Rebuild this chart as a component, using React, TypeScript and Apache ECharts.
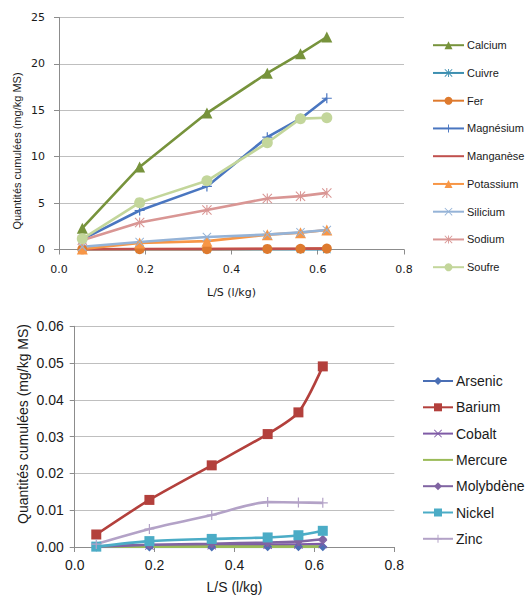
import { useEffect, useRef } from "react";
import * as echarts from "echarts";

// L/S values (l/kg)
const LS = [0.054, 0.187, 0.343, 0.483, 0.56, 0.621];

// Top chart: cumulated quantities (mg/kg MS)
const TOP_NAMES = ["Calcium", "Cuivre", "Fer", "Magnésium", "Manganèse", "Potassium", "Silicium", "Sodium", "Soufre"];
const calcium = [2.3, 8.9, 14.7, 19.0, 21.1, 22.9];
const cuivre = [0.01, 0.01, 0.01, 0.01, 0.01, 0.01];
const fer = [0.02, 0.03, 0.04, 0.06, 0.08, 0.1];
const magnesium = [1.1, 4.2, 6.8, 12.1, 14.1, 16.3];
const manganese = [0.03, 0.05, 0.06, 0.08, 0.09, 0.1];
const potassium = [0.05, 0.7, 0.9, 1.6, 1.8, 2.1];
const silicium = [0.3, 0.8, 1.35, 1.6, 1.85, 2.1];
const sodium = [1.0, 2.9, 4.25, 5.5, 5.75, 6.1];
const soufre = [1.15, 5.05, 7.4, 11.5, 14.1, 14.2];

// Bottom chart
const BOTTOM_NAMES = ["Arsenic", "Barium", "Cobalt", "Mercure", "Molybdène", "Nickel", "Zinc"];
const arsenic = [0.00002, 0.00003, 0.00003, 0.00004, 0.00004, 0.00005];
const barium = [0.0034, 0.0128, 0.0222, 0.0307, 0.0366, 0.0491];
const cobalt = [0.0002, 0.0004, 0.0005, 0.0006, 0.0007, 0.0008];
const mercure = [0.0001, 0.0001, 0.0001, 0.0001, 0.0001, 0.0001];
const molybdene = [0.0001, 0.0006, 0.0009, 0.0012, 0.0015, 0.0021];
const nickel = [0.0001, 0.0016, 0.0022, 0.0026, 0.0032, 0.0044];
const zinc = [0.0008, 0.0049, 0.0087, 0.0122, 0.0121, 0.012];

const NO_MARKER = ["Manganèse", "Mercure"];

const PLUS = "path://M8.8,0H11.2V8.8H20V11.2H11.2V20H8.8V11.2H0V8.8H8.8Z";
const CROSS_D = "M0,1.5L1.5,0L10,8.5L18.5,0L20,1.5L11.5,10L20,18.5L18.5,20L10,11.5L1.5,20L0,18.5L8.5,10Z";
const CROSS = "path://" + CROSS_D;
const STAR = "path://" + CROSS_D + "M8.9,0H11.1V20H8.9Z";

const SANS = "Liberation Sans, Arial, sans-serif";

function mk(
  name: string,
  values: number[],
  color: string,
  symbol: string,
  size: number,
  axis: number,
  smooth: number | boolean
) {
  return {
    name,
    type: "line",
    xAxisIndex: axis,
    yAxisIndex: axis,
    data: LS.map((x, i) => [x, values[i]]),
    symbol,
    symbolSize: size,
    showSymbol: symbol !== "none",
    smooth,
    lineStyle: { width: 2.6, color },
    itemStyle: { color },
    emphasis: { disabled: true },
  };
}

function legendData(names: string[]) {
  return names.map((n) =>
    NO_MARKER.includes(n)
      ? { name: n, itemStyle: { color: "rgba(0,0,0,0)", opacity: 0, borderWidth: 0 } }
      : { name: n }
  );
}

export default function App() {
  const ref = useRef<HTMLDivElement>(null);
  useEffect(() => {
    if (!ref.current) return;
    const chart = echarts.init(ref.current, undefined, { renderer: "svg" });
    const axisLine = { show: true, lineStyle: { color: "#8c8c8c", width: 1 } };
    const axisTick = { show: true, length: 5, lineStyle: { color: "#8c8c8c" } };
    const splitLine = { show: true, lineStyle: { color: "#bfbfbf", width: 1 } };
    const option: any = {
      animation: false,
      backgroundColor: "#ffffff",
      grid: [
        { left: 59, top: 17.5, width: 345, height: 232 },
        { left: 74.7, top: 326.3, width: 319.6, height: 222 },
      ],
      xAxis: [
        {
          type: "value",
          gridIndex: 0,
          min: 0,
          max: 0.8,
          interval: 0.2,
          axisLine,
          axisTick,
          splitLine: { show: false },
          axisLabel: {
            formatter: (v: number) => v.toFixed(1),
            fontSize: 11,
            fontFamily: "DejaVu Sans",
            color: "#1a1a1a",
            margin: 14,
          },
          name: "L/S (l/kg)",
          nameLocation: "middle",
          nameGap: 37,
          nameTextStyle: { fontSize: 11, fontFamily: "DejaVu Sans", color: "#1a1a1a" },
        },
        {
          type: "value",
          gridIndex: 1,
          min: 0,
          max: 0.8,
          interval: 0.2,
          axisLine,
          axisTick,
          splitLine: { show: false },
          axisLabel: {
            formatter: (v: number) => v.toFixed(1),
            fontSize: 14,
            fontFamily: SANS,
            color: "#1a1a1a",
            margin: 11,
          },
          name: "L/S (l/kg)",
          nameLocation: "middle",
          nameGap: 33,
          nameTextStyle: { fontSize: 14, fontFamily: SANS, color: "#1a1a1a" },
        },
      ],
      yAxis: [
        {
          type: "value",
          gridIndex: 0,
          min: 0,
          max: 25,
          interval: 5,
          axisLine,
          axisTick,
          splitLine,
          axisLabel: { fontSize: 11, fontFamily: "DejaVu Sans", color: "#1a1a1a", margin: 14 },
        },
        {
          type: "value",
          gridIndex: 1,
          min: 0,
          max: 0.06,
          interval: 0.01,
          axisLine,
          axisTick,
          splitLine,
          axisLabel: {
            formatter: (v: number) => v.toFixed(2),
            fontSize: 14,
            fontFamily: SANS,
            color: "#1a1a1a",
            margin: 11,
          },
        },
      ],
      legend: [
        {
          data: legendData(TOP_NAMES),
          orient: "vertical",
          left: 432,
          top: 39.7,
          padding: 0,
          itemWidth: 31,
          itemHeight: 10,
          itemGap: 16.75,
          textStyle: { fontSize: 11, fontFamily: SANS, color: "#1a1a1a", padding: [0, 0, 0, -2] },
        },
        {
          data: legendData(BOTTOM_NAMES),
          orient: "vertical",
          left: 422,
          top: 374,
          padding: 0,
          itemWidth: 30,
          itemHeight: 10,
          itemGap: 12.3,
          textStyle: { fontSize: 14, fontFamily: SANS, color: "#1a1a1a", padding: [0, 0, 0, -2] },
        },
      ],
      graphic: [
        {
          type: "text",
          x: 17,
          y: 151,
          rotation: Math.PI / 2,
          style: {
            text: "Quantités cumulées (mg/kg MS)",
            fontSize: 11,
            fontFamily: SANS,
            fill: "#1a1a1a",
            align: "center",
            verticalAlign: "middle",
          },
        },
        {
          type: "text",
          x: 22.7,
          y: 424,
          rotation: Math.PI / 2,
          style: {
            text: "Quantités cumulées (mg/kg MS)",
            fontSize: 14,
            fontFamily: SANS,
            fill: "#1a1a1a",
            align: "center",
            verticalAlign: "middle",
          },
        },
      ],
      series: [
        mk("Calcium", calcium, "#77933C", "triangle", 11, 0, false),
        mk("Cuivre", cuivre, "#3D8FB0", STAR, 8, 0, false),
        mk("Fer", fer, "#DE7A2E", "circle", 10, 0, false),
        mk("Magnésium", magnesium, "#4A76C0", PLUS, 10, 0, false),
        mk("Manganèse", manganese, "#C0504D", "none", 0, 0, false),
        mk("Potassium", potassium, "#F79646", "triangle", 11, 0, false),
        mk("Silicium", silicium, "#95B3D7", CROSS, 9, 0, false),
        mk("Sodium", sodium, "#D99694", STAR, 10, 0, false),
        mk("Soufre", soufre, "#C3D69B", "circle", 11, 0, false),
        mk("Arsenic", arsenic, "#4A6FB5", "diamond", 9, 1, 0.25),
        mk("Barium", barium, "#B3403C", "rect", 10, 1, 0.25),
        mk("Cobalt", cobalt, "#7F5BA6", CROSS, 9, 1, 0.25),
        mk("Mercure", mercure, "#9BBB59", "none", 0, 1, 0.25),
        mk("Molybdène", molybdene, "#8064A2", "diamond", 9, 1, 0.25),
        mk("Nickel", nickel, "#4BACC6", "rect", 10, 1, 0.25),
        mk("Zinc", zinc, "#B3A2C7", PLUS, 10, 1, 0.25),
      ],
    };
    chart.setOption(option);
    return () => chart.dispose();
  }, []);
  return (
    <div
      ref={ref}
      style={{ position: "absolute", left: 0, top: 0, width: 531, height: 595 }}
    />
  );
}
